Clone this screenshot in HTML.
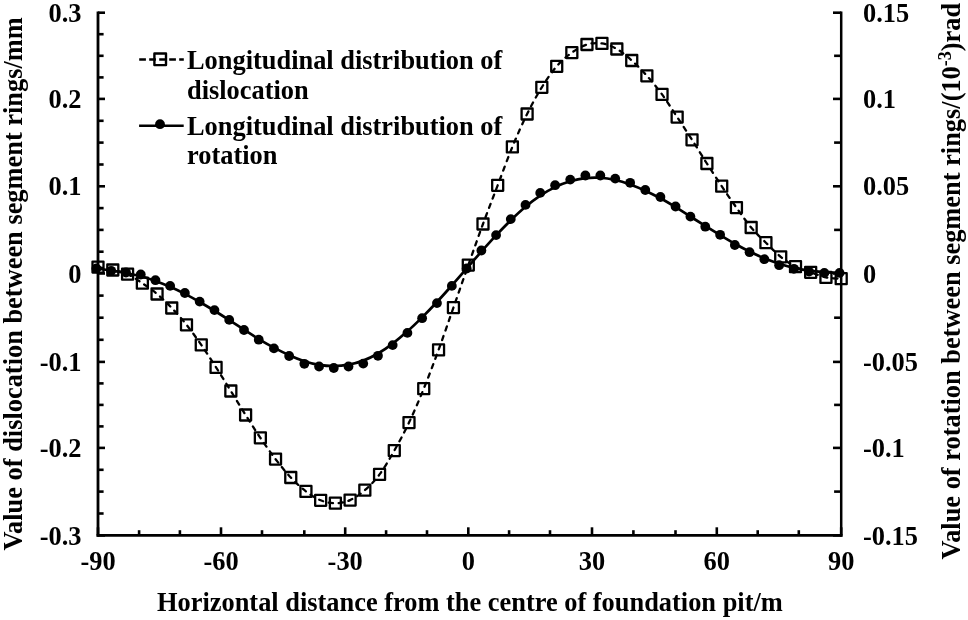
<!DOCTYPE html><html><head><meta charset="utf-8"><style>html,body{margin:0;padding:0;background:#fff;}svg{display:block;will-change:transform;}</style></head><body>
<svg width="968" height="620" viewBox="0 0 968 620">
<rect width="968" height="620" fill="#fff"/>
<g stroke="#000" fill="none" stroke-linecap="butt">
<path d="M98.0 11.4V536.8" stroke-width="2.8"/>
<path d="M841.2 11.4V536.8" stroke-width="2.5"/>
<path d="M96.6 535.4H842.5" stroke-width="2.7"/>
</g>
<g stroke="#000" stroke-width="2.6" fill="none" stroke-linecap="butt">
<path d="M98.0 12.7H105"/>
<path d="M98.0 34.2H103.6"/>
<path d="M98.0 55.8H103.6"/>
<path d="M98.0 77.4H103.6"/>
<path d="M98.0 98.9H105"/>
<path d="M98.0 120.8H103.6"/>
<path d="M98.0 142.6H103.6"/>
<path d="M98.0 164.5H103.6"/>
<path d="M98.0 186.3H105"/>
<path d="M98.0 208.1H103.6"/>
<path d="M98.0 229.9H103.6"/>
<path d="M98.0 251.7H103.6"/>
<path d="M98.0 273.5H105"/>
<path d="M98.0 295.6H103.6"/>
<path d="M98.0 317.7H103.6"/>
<path d="M98.0 339.8H103.6"/>
<path d="M98.0 361.9H105"/>
<path d="M98.0 383.4H103.6"/>
<path d="M98.0 404.9H103.6"/>
<path d="M98.0 426.4H103.6"/>
<path d="M98.0 447.9H105"/>
<path d="M98.0 469.8H103.6"/>
<path d="M98.0 491.6H103.6"/>
<path d="M98.0 513.5H103.6"/>
<path d="M98.0 535.4H105"/>
<path d="M841.2 12.7H833"/>
<path d="M841.2 55.8H834.1"/>
<path d="M841.2 98.9H833"/>
<path d="M841.2 142.6H834.1"/>
<path d="M841.2 186.3H833"/>
<path d="M841.2 229.9H834.1"/>
<path d="M841.2 273.5H833"/>
<path d="M841.2 317.7H834.1"/>
<path d="M841.2 361.9H833"/>
<path d="M841.2 404.9H834.1"/>
<path d="M841.2 447.9H833"/>
<path d="M841.2 491.6H834.1"/>
<path d="M841.2 535.4H833"/>
<path d="M98.0 535.4V527.3"/>
<path d="M139.1 535.4V530.2"/>
<path d="M179.9 535.4V530.2"/>
<path d="M221.0 535.4V527.3"/>
<path d="M262.0 535.4V530.2"/>
<path d="M304.3 535.4V530.2"/>
<path d="M345.2 535.4V527.3"/>
<path d="M386.1 535.4V530.2"/>
<path d="M427.0 535.4V530.2"/>
<path d="M468.3 535.4V527.3"/>
<path d="M509.1 535.4V530.2"/>
<path d="M550.0 535.4V530.2"/>
<path d="M592.0 535.4V527.3"/>
<path d="M633.4 535.4V530.2"/>
<path d="M675.5 535.4V530.2"/>
<path d="M716.8 535.4V527.3"/>
<path d="M757.7 535.4V530.2"/>
<path d="M798.8 535.4V530.2"/>
<path d="M841.2 535.4V527.3"/>
</g>
<path d="M96.40 268.32C98.87 268.70 106.26 269.81 111.20 270.59C116.13 271.38 121.06 272.09 125.99 273.04C130.92 273.99 135.85 274.99 140.76 276.30C145.67 277.61 150.56 279.15 155.45 280.90C160.35 282.66 165.24 284.67 170.14 286.84C175.04 289.01 179.95 291.39 184.88 293.91C189.80 296.43 194.74 299.15 199.67 301.96C204.60 304.76 209.54 307.73 214.47 310.76C219.40 313.79 224.32 316.98 229.24 320.14C234.16 323.30 239.08 326.57 244.00 329.72C248.92 332.87 253.77 336.05 258.76 339.04C263.75 342.02 268.87 344.95 273.94 347.65C279.00 350.35 284.10 352.98 289.16 355.23C294.23 357.48 299.35 359.57 304.34 361.17C309.32 362.77 314.15 364.03 319.06 364.84C323.97 365.64 328.88 366.04 333.78 366.02C338.69 366.00 343.60 365.60 348.51 364.70C353.42 363.80 358.32 362.49 363.23 360.62C368.14 358.75 373.05 356.35 377.96 353.50C382.86 350.66 387.77 347.25 392.68 343.56C397.59 339.87 402.50 335.72 407.40 331.35C412.31 326.99 417.20 322.26 422.13 317.36C427.05 312.47 432.01 307.28 436.96 301.97C441.91 296.65 446.88 291.08 451.83 285.49C456.79 279.91 461.77 274.12 466.70 268.47C471.63 262.83 476.49 257.11 481.39 251.60C486.28 246.10 491.18 240.65 496.08 235.44C500.97 230.22 505.87 225.09 510.77 220.31C515.68 215.54 520.59 210.90 525.50 206.78C530.40 202.65 535.28 198.85 540.22 195.57C545.16 192.29 550.12 189.48 555.12 187.10C560.12 184.72 565.20 182.78 570.24 181.29C575.28 179.79 580.34 178.71 585.36 178.12C590.38 177.53 595.36 177.43 600.34 177.74C605.32 178.06 610.27 178.89 615.24 180.01C620.21 181.13 625.14 182.69 630.14 184.46C635.15 186.24 640.22 188.36 645.27 190.67C650.32 192.97 655.38 195.56 660.43 198.30C665.47 201.03 670.55 204.04 675.55 207.07C680.55 210.11 685.46 213.36 690.42 216.51C695.38 219.66 700.34 222.88 705.29 225.98C710.24 229.09 715.18 232.17 720.11 235.13C725.03 238.09 729.92 241.02 734.83 243.76C739.74 246.50 744.64 249.15 749.56 251.57C754.47 253.99 759.39 256.27 764.32 258.31C769.25 260.34 774.18 262.19 779.12 263.79C784.05 265.38 788.92 266.73 793.91 267.86C798.90 268.99 804.00 269.86 809.07 270.56C814.14 271.26 819.25 271.71 824.34 272.07C829.42 272.42 837.06 272.59 839.60 272.69" fill="none" stroke="#000" stroke-width="2.7"/>
<path d="M98.00 267.10C100.47 267.58 107.86 268.82 112.80 270.00C117.73 271.18 122.66 272.00 127.59 274.20C132.52 276.40 137.45 279.90 142.36 283.20C147.27 286.50 152.16 289.87 157.05 294.00C161.95 298.13 166.84 302.87 171.74 308.00C176.64 313.13 181.55 318.65 186.48 324.80C191.40 330.95 196.34 337.80 201.27 344.90C206.20 352.00 211.14 359.72 216.07 367.40C221.00 375.08 225.92 383.07 230.84 391.00C235.76 398.93 240.68 407.20 245.60 415.00C250.52 422.80 255.37 430.45 260.36 437.80C265.35 445.15 270.47 452.48 275.54 459.10C280.60 465.72 285.70 472.12 290.76 477.50C295.83 482.88 300.95 487.60 305.94 491.40C310.92 495.20 315.75 498.33 320.66 500.30C325.57 502.27 330.48 503.23 335.38 503.20C340.29 503.17 345.20 502.27 350.11 500.10C355.02 497.93 359.92 494.48 364.83 490.20C369.74 485.92 374.65 481.00 379.56 474.40C384.46 467.80 389.37 459.23 394.28 450.60C399.19 441.97 404.10 432.92 409.00 422.60C413.91 412.28 418.80 400.82 423.73 388.70C428.65 376.58 433.61 363.42 438.56 349.90C443.51 336.38 448.48 321.73 453.43 307.60C458.39 293.47 463.37 279.03 468.30 265.10C473.23 251.17 478.09 237.30 482.99 224.00C487.88 210.70 492.78 198.15 497.68 185.30C502.57 172.45 507.47 158.78 512.37 146.90C517.28 135.02 522.19 123.93 527.10 114.00C532.00 104.07 536.88 95.25 541.82 87.30C546.76 79.35 551.72 72.08 556.72 66.30C561.72 60.52 566.80 56.23 571.84 52.60C576.88 48.97 581.94 46.03 586.96 44.50C591.98 42.97 596.96 42.65 601.94 43.40C606.92 44.15 611.87 46.15 616.84 49.00C621.81 51.85 626.74 56.03 631.74 60.50C636.75 64.97 641.82 70.15 646.87 75.80C651.92 81.45 656.98 87.52 662.03 94.40C667.07 101.28 672.15 109.53 677.15 117.10C682.15 124.67 687.06 132.07 692.02 139.80C696.98 147.53 701.94 155.77 706.89 163.50C711.84 171.23 716.78 178.85 721.71 186.20C726.63 193.55 731.52 200.72 736.43 207.60C741.34 214.48 746.24 221.65 751.16 227.50C756.07 233.35 760.99 237.82 765.92 242.70C770.85 247.58 775.78 252.80 780.72 256.80C785.65 260.80 790.52 264.12 795.51 266.70C800.50 269.28 805.60 270.52 810.67 272.30C815.74 274.08 820.85 276.33 825.94 277.40C831.02 278.47 838.66 278.48 841.20 278.70" fill="none" stroke="#000" stroke-width="2.3" stroke-dasharray="4.3 5.7" stroke-linecap="round"/>
<rect x="92.50" y="261.60" width="11.0" height="11.0" fill="none" stroke="#000" stroke-width="2.3" stroke-linejoin="round"/>
<rect x="107.30" y="264.50" width="11.0" height="11.0" fill="none" stroke="#000" stroke-width="2.3" stroke-linejoin="round"/>
<rect x="122.09" y="268.70" width="11.0" height="11.0" fill="none" stroke="#000" stroke-width="2.3" stroke-linejoin="round"/>
<rect x="136.86" y="277.70" width="11.0" height="11.0" fill="none" stroke="#000" stroke-width="2.3" stroke-linejoin="round"/>
<rect x="151.55" y="288.50" width="11.0" height="11.0" fill="none" stroke="#000" stroke-width="2.3" stroke-linejoin="round"/>
<rect x="166.24" y="302.50" width="11.0" height="11.0" fill="none" stroke="#000" stroke-width="2.3" stroke-linejoin="round"/>
<rect x="180.98" y="319.30" width="11.0" height="11.0" fill="none" stroke="#000" stroke-width="2.3" stroke-linejoin="round"/>
<rect x="195.77" y="339.40" width="11.0" height="11.0" fill="none" stroke="#000" stroke-width="2.3" stroke-linejoin="round"/>
<rect x="210.57" y="361.90" width="11.0" height="11.0" fill="none" stroke="#000" stroke-width="2.3" stroke-linejoin="round"/>
<rect x="225.34" y="385.50" width="11.0" height="11.0" fill="none" stroke="#000" stroke-width="2.3" stroke-linejoin="round"/>
<rect x="240.10" y="409.50" width="11.0" height="11.0" fill="none" stroke="#000" stroke-width="2.3" stroke-linejoin="round"/>
<rect x="254.86" y="432.30" width="11.0" height="11.0" fill="none" stroke="#000" stroke-width="2.3" stroke-linejoin="round"/>
<rect x="270.04" y="453.60" width="11.0" height="11.0" fill="none" stroke="#000" stroke-width="2.3" stroke-linejoin="round"/>
<rect x="285.26" y="472.00" width="11.0" height="11.0" fill="none" stroke="#000" stroke-width="2.3" stroke-linejoin="round"/>
<rect x="300.44" y="485.90" width="11.0" height="11.0" fill="none" stroke="#000" stroke-width="2.3" stroke-linejoin="round"/>
<rect x="315.16" y="494.80" width="11.0" height="11.0" fill="none" stroke="#000" stroke-width="2.3" stroke-linejoin="round"/>
<rect x="329.88" y="497.70" width="11.0" height="11.0" fill="none" stroke="#000" stroke-width="2.3" stroke-linejoin="round"/>
<rect x="344.61" y="494.60" width="11.0" height="11.0" fill="none" stroke="#000" stroke-width="2.3" stroke-linejoin="round"/>
<rect x="359.33" y="484.70" width="11.0" height="11.0" fill="none" stroke="#000" stroke-width="2.3" stroke-linejoin="round"/>
<rect x="374.06" y="468.90" width="11.0" height="11.0" fill="none" stroke="#000" stroke-width="2.3" stroke-linejoin="round"/>
<rect x="388.78" y="445.10" width="11.0" height="11.0" fill="none" stroke="#000" stroke-width="2.3" stroke-linejoin="round"/>
<rect x="403.50" y="417.10" width="11.0" height="11.0" fill="none" stroke="#000" stroke-width="2.3" stroke-linejoin="round"/>
<rect x="418.23" y="383.20" width="11.0" height="11.0" fill="none" stroke="#000" stroke-width="2.3" stroke-linejoin="round"/>
<rect x="433.06" y="344.40" width="11.0" height="11.0" fill="none" stroke="#000" stroke-width="2.3" stroke-linejoin="round"/>
<rect x="447.93" y="302.10" width="11.0" height="11.0" fill="none" stroke="#000" stroke-width="2.3" stroke-linejoin="round"/>
<rect x="462.80" y="259.60" width="11.0" height="11.0" fill="none" stroke="#000" stroke-width="2.3" stroke-linejoin="round"/>
<rect x="477.49" y="218.50" width="11.0" height="11.0" fill="none" stroke="#000" stroke-width="2.3" stroke-linejoin="round"/>
<rect x="492.18" y="179.80" width="11.0" height="11.0" fill="none" stroke="#000" stroke-width="2.3" stroke-linejoin="round"/>
<rect x="506.87" y="141.40" width="11.0" height="11.0" fill="none" stroke="#000" stroke-width="2.3" stroke-linejoin="round"/>
<rect x="521.60" y="108.50" width="11.0" height="11.0" fill="none" stroke="#000" stroke-width="2.3" stroke-linejoin="round"/>
<rect x="536.32" y="81.80" width="11.0" height="11.0" fill="none" stroke="#000" stroke-width="2.3" stroke-linejoin="round"/>
<rect x="551.22" y="60.80" width="11.0" height="11.0" fill="none" stroke="#000" stroke-width="2.3" stroke-linejoin="round"/>
<rect x="566.34" y="47.10" width="11.0" height="11.0" fill="none" stroke="#000" stroke-width="2.3" stroke-linejoin="round"/>
<rect x="581.46" y="39.00" width="11.0" height="11.0" fill="none" stroke="#000" stroke-width="2.3" stroke-linejoin="round"/>
<rect x="596.44" y="37.90" width="11.0" height="11.0" fill="none" stroke="#000" stroke-width="2.3" stroke-linejoin="round"/>
<rect x="611.34" y="43.50" width="11.0" height="11.0" fill="none" stroke="#000" stroke-width="2.3" stroke-linejoin="round"/>
<rect x="626.24" y="55.00" width="11.0" height="11.0" fill="none" stroke="#000" stroke-width="2.3" stroke-linejoin="round"/>
<rect x="641.37" y="70.30" width="11.0" height="11.0" fill="none" stroke="#000" stroke-width="2.3" stroke-linejoin="round"/>
<rect x="656.53" y="88.90" width="11.0" height="11.0" fill="none" stroke="#000" stroke-width="2.3" stroke-linejoin="round"/>
<rect x="671.65" y="111.60" width="11.0" height="11.0" fill="none" stroke="#000" stroke-width="2.3" stroke-linejoin="round"/>
<rect x="686.52" y="134.30" width="11.0" height="11.0" fill="none" stroke="#000" stroke-width="2.3" stroke-linejoin="round"/>
<rect x="701.39" y="158.00" width="11.0" height="11.0" fill="none" stroke="#000" stroke-width="2.3" stroke-linejoin="round"/>
<rect x="716.21" y="180.70" width="11.0" height="11.0" fill="none" stroke="#000" stroke-width="2.3" stroke-linejoin="round"/>
<rect x="730.93" y="202.10" width="11.0" height="11.0" fill="none" stroke="#000" stroke-width="2.3" stroke-linejoin="round"/>
<rect x="745.66" y="222.00" width="11.0" height="11.0" fill="none" stroke="#000" stroke-width="2.3" stroke-linejoin="round"/>
<rect x="760.42" y="237.20" width="11.0" height="11.0" fill="none" stroke="#000" stroke-width="2.3" stroke-linejoin="round"/>
<rect x="775.22" y="251.30" width="11.0" height="11.0" fill="none" stroke="#000" stroke-width="2.3" stroke-linejoin="round"/>
<rect x="790.01" y="261.20" width="11.0" height="11.0" fill="none" stroke="#000" stroke-width="2.3" stroke-linejoin="round"/>
<rect x="805.17" y="266.80" width="11.0" height="11.0" fill="none" stroke="#000" stroke-width="2.3" stroke-linejoin="round"/>
<rect x="820.44" y="271.90" width="11.0" height="11.0" fill="none" stroke="#000" stroke-width="2.3" stroke-linejoin="round"/>
<rect x="835.70" y="273.20" width="11.0" height="11.0" fill="none" stroke="#000" stroke-width="2.3" stroke-linejoin="round"/>
<circle cx="96.40" cy="268.40" r="4.9" fill="#000"/>
<circle cx="111.20" cy="270.80" r="4.9" fill="#000"/>
<circle cx="125.99" cy="272.50" r="4.9" fill="#000"/>
<circle cx="140.76" cy="274.50" r="4.9" fill="#000"/>
<circle cx="155.45" cy="280.20" r="4.9" fill="#000"/>
<circle cx="170.14" cy="285.90" r="4.9" fill="#000"/>
<circle cx="184.88" cy="293.00" r="4.9" fill="#000"/>
<circle cx="199.67" cy="301.60" r="4.9" fill="#000"/>
<circle cx="214.47" cy="310.10" r="4.9" fill="#000"/>
<circle cx="229.24" cy="319.90" r="4.9" fill="#000"/>
<circle cx="244.00" cy="330.00" r="4.9" fill="#000"/>
<circle cx="258.76" cy="339.70" r="4.9" fill="#000"/>
<circle cx="273.94" cy="348.40" r="4.9" fill="#000"/>
<circle cx="289.16" cy="356.00" r="4.9" fill="#000"/>
<circle cx="304.34" cy="363.80" r="4.9" fill="#000"/>
<circle cx="319.06" cy="366.50" r="4.9" fill="#000"/>
<circle cx="333.78" cy="368.00" r="4.9" fill="#000"/>
<circle cx="348.51" cy="366.50" r="4.9" fill="#000"/>
<circle cx="363.23" cy="363.60" r="4.9" fill="#000"/>
<circle cx="377.96" cy="355.80" r="4.9" fill="#000"/>
<circle cx="392.68" cy="345.10" r="4.9" fill="#000"/>
<circle cx="407.40" cy="332.90" r="4.9" fill="#000"/>
<circle cx="422.13" cy="318.20" r="4.9" fill="#000"/>
<circle cx="436.96" cy="303.10" r="4.9" fill="#000"/>
<circle cx="451.83" cy="285.90" r="4.9" fill="#000"/>
<circle cx="466.70" cy="268.50" r="4.9" fill="#000"/>
<circle cx="481.39" cy="250.50" r="4.9" fill="#000"/>
<circle cx="496.08" cy="235.10" r="4.9" fill="#000"/>
<circle cx="510.77" cy="219.10" r="4.9" fill="#000"/>
<circle cx="525.50" cy="204.90" r="4.9" fill="#000"/>
<circle cx="540.22" cy="192.90" r="4.9" fill="#000"/>
<circle cx="555.12" cy="185.20" r="4.9" fill="#000"/>
<circle cx="570.24" cy="179.60" r="4.9" fill="#000"/>
<circle cx="585.36" cy="175.50" r="4.9" fill="#000"/>
<circle cx="600.34" cy="175.50" r="4.9" fill="#000"/>
<circle cx="615.24" cy="178.60" r="4.9" fill="#000"/>
<circle cx="630.14" cy="182.80" r="4.9" fill="#000"/>
<circle cx="645.27" cy="190.00" r="4.9" fill="#000"/>
<circle cx="660.43" cy="197.00" r="4.9" fill="#000"/>
<circle cx="675.55" cy="206.50" r="4.9" fill="#000"/>
<circle cx="690.42" cy="216.60" r="4.9" fill="#000"/>
<circle cx="705.29" cy="226.70" r="4.9" fill="#000"/>
<circle cx="720.11" cy="234.80" r="4.9" fill="#000"/>
<circle cx="734.83" cy="245.00" r="4.9" fill="#000"/>
<circle cx="749.56" cy="252.20" r="4.9" fill="#000"/>
<circle cx="764.32" cy="259.20" r="4.9" fill="#000"/>
<circle cx="779.12" cy="265.20" r="4.9" fill="#000"/>
<circle cx="793.91" cy="268.80" r="4.9" fill="#000"/>
<circle cx="809.07" cy="271.60" r="4.9" fill="#000"/>
<circle cx="824.34" cy="272.90" r="4.9" fill="#000"/>
<circle cx="839.60" cy="272.90" r="4.9" fill="#000"/>
<g font-family="Liberation Serif" font-weight="bold" font-size="26.4" fill="#000">
<text x="81.5" y="21.8" text-anchor="end">0.3</text>
<text x="81.5" y="108.0" text-anchor="end">0.2</text>
<text x="81.5" y="195.4" text-anchor="end">0.1</text>
<text x="81.5" y="282.6" text-anchor="end">0</text>
<text x="81.5" y="371.0" text-anchor="end">-0.1</text>
<text x="81.5" y="457.0" text-anchor="end">-0.2</text>
<text x="81.5" y="544.5" text-anchor="end">-0.3</text>
<text x="863" y="21.8">0.15</text>
<text x="863" y="108.0">0.1</text>
<text x="863" y="195.4">0.05</text>
<text x="863" y="282.6">0</text>
<text x="863" y="371.0">-0.05</text>
<text x="863" y="457.0">-0.1</text>
<text x="863" y="544.5">-0.15</text>
<text x="98.0" y="570" text-anchor="middle">-90</text>
<text x="221.0" y="570" text-anchor="middle">-60</text>
<text x="345.2" y="570" text-anchor="middle">-30</text>
<text x="468.3" y="570" text-anchor="middle">0</text>
<text x="592.0" y="570" text-anchor="middle">30</text>
<text x="716.8" y="570" text-anchor="middle">60</text>
<text x="841.2" y="570" text-anchor="middle">90</text>
<text x="157" y="611.4">Horizontal distance from the centre of foundation pit/m</text>
<text transform="translate(21.5 550.6) rotate(-90)">Value of dislocation between segment rings/mm</text>
<text transform="translate(959.6 559.5) rotate(-90)">Value of rotation between segment rings/(10<tspan font-size="18" dy="-9">-3</tspan><tspan dy="9">)rad</tspan></text>
<text x="187" y="68.6">Longitudinal distribution of</text>
<text x="187" y="98.8">dislocation</text>
<text x="187" y="134.7">Longitudinal distribution of</text>
<text x="187" y="164.2">rotation</text>
</g>
<path d="M139.2 59.4H183.8" stroke="#000" stroke-width="2.5" stroke-dasharray="6.7 3.3" fill="none"/>
<rect x="154.39999999999998" y="53.5" width="11.6" height="11.6" fill="none" stroke="#000" stroke-width="2.4" stroke-linejoin="round"/>
<path d="M139.1 125.8H183.7" stroke="#000" stroke-width="2.6" fill="none"/>
<circle cx="160.0" cy="124.2" r="4.9" fill="#000"/>
</svg></body></html>
